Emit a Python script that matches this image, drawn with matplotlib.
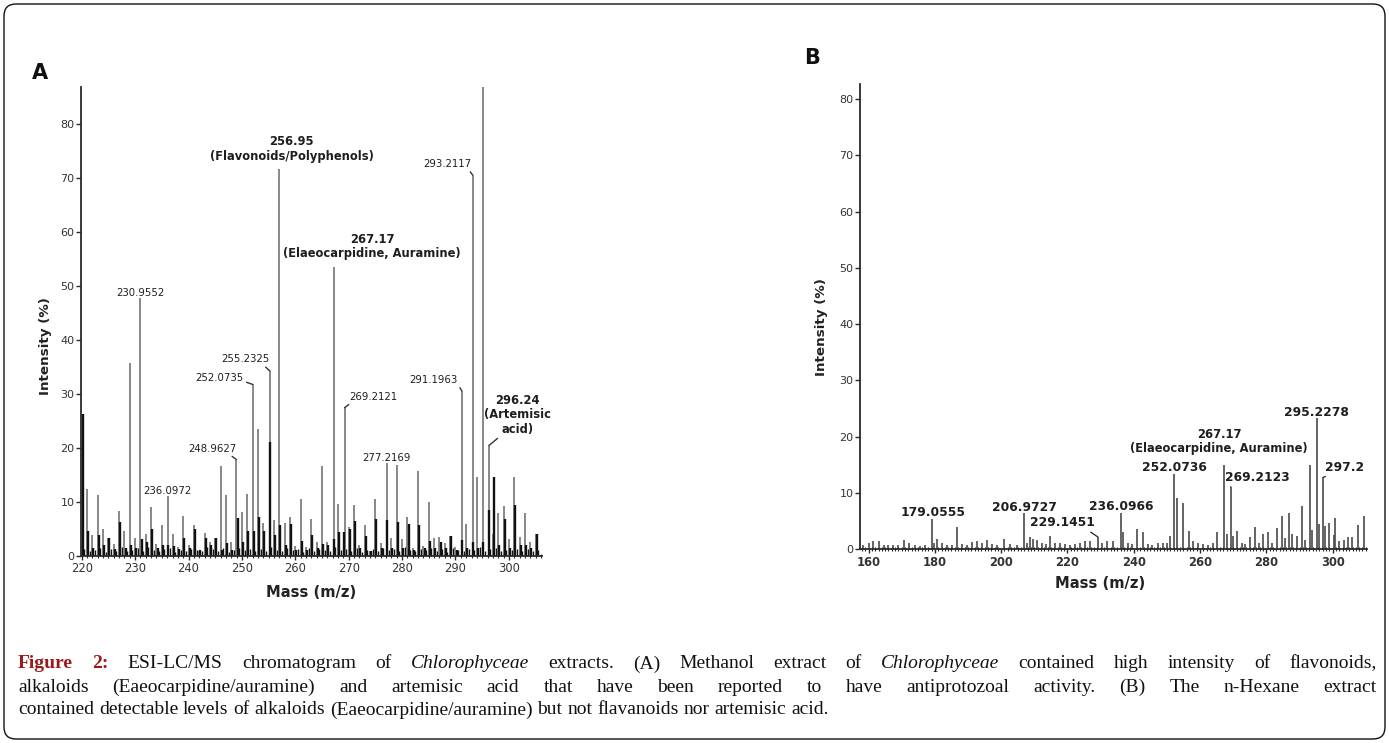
import numpy as np
import matplotlib
matplotlib.use("Agg")
import matplotlib.pyplot as plt
from matplotlib.patches import FancyBboxPatch
from matplotlib.ticker import MultipleLocator

plt.rcParams['font.family'] = ['DejaVu Sans']

# ---------------- Panel A data (methanol extract) ----------------
A_gray_mz = [221, 222, 223, 224, 225, 226, 227, 228, 229, 230, 230.9552, 232, 233, 234, 235,
             236.0972, 237, 238, 239, 240, 241, 242, 243, 244, 245, 246, 247, 248, 248.9627,
             250, 251, 252.0735, 253, 254, 255.2325, 256, 256.95, 258, 259, 260, 261, 262, 263,
             264, 265, 266, 267.17, 268, 269.2121, 270, 271, 272, 273, 274, 275, 276, 277.2169,
             278, 279, 280, 281, 282, 283, 284, 285, 286, 287, 288, 289, 290, 291.1963, 292,
             293.2117, 294, 295.2, 296.24, 297, 298, 299, 300, 301, 302, 303, 304, 305]
A_gray_int = [12.3, 3.8, 11.3, 5.0, 3.3, 2.2, 8.2, 4.6, 35.6, 3.3, 47.7, 4.1, 9.1, 2.2, 5.6,
              11.0, 4.0, 1.7, 7.4, 2.0, 5.7, 0.9, 4.2, 2.5, 3.3, 16.7, 11.3, 2.5, 17.8,
              8.1, 11.5, 31.7, 23.4, 6.1, 34.2, 6.7, 71.7, 6.1, 7.1, 1.8, 10.5, 1.7, 6.8,
              2.5, 16.7, 2.5, 53.4, 9.6, 27.4, 5.4, 9.4, 2.0, 5.6, 0.9, 10.5, 2.4, 17.1,
              3.3, 16.8, 3.1, 7.2, 1.4, 15.6, 1.8, 9.9, 3.3, 3.5, 2.4, 3.6, 1.7, 30.5, 5.9,
              70.5, 14.6, 100.0, 20.4, 4.0, 7.9, 9.2, 3.1, 14.6, 3.5, 8.0, 2.5, 4.0]

A_black_mz = list(range(220, 306))
A_black_int = [26.2, 4.5, 1.5, 3.8, 2.0, 3.3, 1.2, 6.2, 1.5, 2.0,
               1.5, 3.1, 2.5, 4.9, 1.5, 2.0, 2.0, 1.8, 1.2, 3.3,
               1.5, 4.9, 1.0, 3.3, 2.0, 3.3, 1.0, 2.3, 1.0, 7.0,
               2.5, 4.6, 4.5, 7.1, 4.5, 21.0, 3.8, 5.6, 2.0, 5.8,
               1.0, 2.7, 1.0, 3.8, 1.5, 2.2, 2.0, 3.1, 4.3, 4.3,
               4.9, 6.5, 1.5, 3.6, 0.8, 6.8, 1.5, 6.6, 1.5, 6.2,
               1.5, 5.9, 1.0, 5.6, 1.5, 2.7, 1.5, 2.5, 1.5, 3.6,
               1.0, 2.9, 1.5, 2.6, 1.5, 2.5, 8.5, 14.6, 2.0, 6.8,
               1.5, 9.3, 2.0, 2.0, 1.5, 4.0]

A_minor_mz = [m + 0.5 for m in range(220, 306)]
A_minor_int = [1.2, 0.8, 1.0, 1.5, 0.7, 1.3, 0.9, 1.6, 0.8, 1.1,
               1.4, 0.9, 1.7, 1.0, 0.8, 1.2, 1.5, 0.7, 1.1, 0.9,
               1.3, 1.0, 0.8, 1.6, 1.2, 0.9, 1.4, 0.7, 1.1, 1.5,
               1.0, 1.3, 0.8, 1.2, 0.9, 1.7, 1.1, 0.8, 1.4, 1.0,
               1.2, 0.7, 1.5, 0.9, 1.3, 1.1, 0.8, 1.6, 1.0, 1.2,
               0.9, 1.4, 0.7, 1.1, 1.3, 0.8, 1.5, 1.0, 1.2, 0.9,
               1.6, 1.1, 0.8, 1.3, 1.0, 1.4, 0.9, 1.2, 0.7, 1.5,
               1.1, 0.8, 1.3, 1.0, 1.6, 0.9, 1.2, 1.4, 0.8, 1.1,
               1.0, 1.3, 0.9, 1.2, 0.8, 1.0]

A_xticks = [220, 230, 240, 250, 260, 270, 280, 290, 300]
A_yticks = [0, 10, 20, 30, 40, 50, 60, 70, 80]

# ---------------- Panel B data (n-hexane extract) ----------------
B_mz = [158.4, 160, 161.4, 163, 164.5, 166, 167.5, 169, 170.7, 172.2,
        174, 175.5, 177, 179.0555, 179.6, 180.6, 182.1, 183.6, 185.1, 186.8,
        188.1, 189.6, 191.1, 192.6, 194.2, 195.7, 197.2, 198.7, 201, 202.7,
        204.7, 206.9727, 207.7, 208.7, 209.7, 210.7, 212.2, 213.5, 214.7, 216.3,
        217.8, 219.3, 220.8, 222.3, 223.8, 225.3, 226.8, 229.1451, 230.5, 232,
        233.6, 236.0966, 236.9, 238.4, 239.4, 240.9, 242.7, 244.2, 245.6, 247.2,
        248.7, 249.9, 250.9, 252.0736, 252.9, 254.9, 256.7, 258, 259.5, 261,
        262.5, 263.9, 265, 267.17, 268, 269.2123, 270, 271, 272.6, 273.6,
        275.1, 276.6, 277.8, 279.1, 280.6, 281.8, 283.1, 284.8, 285.6, 286.8,
        287.8, 289.1, 290.8, 291.8, 293.1, 293.9, 295.2278, 295.8, 297.2, 297.8,
        298.8, 300.4, 300.8, 302, 303.3, 304.7, 305.8, 307.5, 309.5]
B_int = [0.8, 1.1, 1.4, 1.5, 0.7, 0.8, 0.7, 0.8, 1.7, 1.1,
         0.8, 0.5, 0.8, 5.3, 1.1, 1.8, 1.1, 0.8, 0.7, 3.9,
         1.0, 0.8, 1.3, 1.5, 1.1, 1.7, 1.0, 0.8, 1.9, 1.0,
         0.8, 6.4, 1.1, 2.2, 1.9, 1.7, 1.1, 1.0, 2.4, 1.1,
         1.2, 1.0, 0.8, 1.0, 1.1, 1.4, 1.5, 2.2, 1.2, 1.4,
         1.5, 6.5, 3.0, 1.2, 1.0, 3.6, 3.0, 1.0, 0.8, 1.1,
         1.2, 1.1, 2.3, 13.4, 9.1, 8.2, 3.3, 1.4, 1.1, 1.0,
         0.8, 1.1, 3.0, 15.0, 2.7, 11.1, 2.3, 3.3, 1.2, 1.0,
         2.1, 3.9, 1.2, 2.7, 3.1, 1.1, 3.8, 5.9, 2.0, 6.4,
         2.7, 2.3, 7.7, 1.7, 15.0, 3.4, 23.3, 4.5, 12.8, 4.1,
         4.7, 2.5, 5.5, 1.4, 1.7, 2.2, 2.2, 4.3, 6.0]

B_xticks = [160, 180, 200, 220, 240, 260, 280, 300]
B_yticks = [0, 10, 20, 30, 40, 50, 60, 70, 80]

# ---------------- labels ----------------
# (mz of peak, text, dx px, dy px, font size, weight, connector relpos or None)
A_labels = [
    (230.9552, "230.9552", 0, 5, 7.3, 'normal', None),
    (256.95, "256.95\n(Flavonoids/Polyphenols)", 12.5, 19.5, 8.3, 'bold', None),
    (267.17, "267.17\n(Elaeocarpidine, Auramine)", 38.5, 21, 8.3, 'bold', None),
    (293.2117, "293.2117", -25, 11, 7.3, 'normal', (0.92, 0.05)),
    (255.2325, "255.2325", -24, 11.7, 7.3, 'normal', (0.85, 0.0)),
    (252.0735, "252.0735", -33.4, 6.7, 7.3, 'normal', (1.0, 0.15)),
    (248.9627, "248.9627", -24.4, 11, 7.3, 'normal', (0.84, 0.0)),
    (236.0972, "236.0972", 0, 5, 7.3, 'normal', None),
    (269.2121, "269.2121", 28.7, 11, 7.3, 'normal', (0.07, 0.0)),
    (277.2169, "277.2169", -0.7, 5.7, 7.3, 'normal', None),
    (291.1963, "291.1963", -28.4, 11, 7.3, 'normal', (1.0, 0.1)),
    (296.24, "296.24\n(Artemisic\nacid)", 29, 31, 8.3, 'bold', (0.28, 0.04)),
]
B_labels = [
    (179.0555, "179.0555", 1, 6.7, 8.8, 'bold', None),
    (206.9727, "206.9727", 0, 5.5, 8.8, 'bold', None),
    (229.1451, "229.1451", -35.2, 14, 8.8, 'bold', (0.87, 0.0)),
    (236.0966, "236.0966", 0, 6, 8.8, 'bold', None),
    (252.0736, "252.0736", 0.5, 6.7, 8.8, 'bold', None),
    (267.17, "267.17\n(Elaeocarpidine, Auramine)", -4.9, 23.3, 8.3, 'bold', None),
    (269.2123, "269.2123", 26.5, 9.3, 8.8, 'bold', (0.18, 0.0)),
    (295.2278, "295.2278", 0, 6, 8.8, 'bold', None),
    (297.2, "297.2", 20.8, 10, 8.8, 'bold', (0.22, 0.0)),
]

caption_lines = [
    [("Figure 2:", 'b'), ("ESI-LC/MS chromatogram of", 'n'), ("Chlorophyceae", 'i'),
     ("extracts. (A) Methanol extract of", 'n'), ("Chlorophyceae", 'i'),
     ("contained high intensity of flavonoids,", 'n')],
    [("alkaloids (Eaeocarpidine/auramine) and artemisic acid that have been reported to have "
      "antiprotozoal activity. (B) The n-Hexane extract", 'n')],
    [("contained detectable levels of alkaloids (Eaeocarpidine/auramine) but not flavanoids "
      "nor artemisic acid.", 'n')],
]

# ---------------- figure ----------------
W, H, DPI = 1389, 743, 100
PT = 72.0 / DPI  # points per pixel
fig = plt.figure(figsize=(W / DPI, H / DPI), dpi=DPI)
fig.patch.set_facecolor('white')


def rect(l, t, r, b):
    return [l / W, 1 - b / H, (r - l) / W, (b - t) / H]


def style_axes(ax, xticks, yticks, xbold):
    for s in ['top', 'right']:
        ax.spines[s].set_visible(False)
    for s in ['left', 'bottom']:
        ax.spines[s].set_color('#2a2a2a')
        ax.spines[s].set_linewidth(1.3)
    ax.set_xticks(xticks)
    ax.set_yticks(yticks)
    ax.xaxis.set_minor_locator(MultipleLocator(1))
    ax.tick_params(axis='y', which='major', direction='out', length=5 * PT, width=1.0,
                   pad=1.2, labelsize=8, labelcolor='#333333', color='#2a2a2a')
    ax.tick_params(axis='x', which='major', direction='out', length=4 * PT, width=1.0,
                   pad=2.0, labelsize=8.3, labelcolor='#333333', color='#2a2a2a')
    ax.tick_params(axis='x', which='minor', direction='inout', length=4 * PT, width=0.8,
                   color='#2a2a2a')
    if xbold:
        for lab in ax.get_xticklabels():
            lab.set_fontweight('bold')
    ax.set_facecolor('none')


def add_labels(ax, mzs, ints, specs):
    lookup = dict(zip(mzs, ints))
    ytop = ax.get_ylim()[1]
    for mz, text, dx, dy, fs, wt, rel in specs:
        val = min(lookup[mz], ytop)
        kw = dict(xy=(mz, val), xytext=(dx * PT, dy * PT), textcoords='offset points',
                  ha='center', va='center', fontsize=fs, fontweight=wt, color='#1e1e1e',
                  multialignment='center', linespacing=1.15, annotation_clip=False)
        if rel is not None:
            kw['arrowprops'] = dict(arrowstyle='-', color='#333333', lw=1.0,
                                    shrinkA=0, shrinkB=0, relpos=rel)
        ax.annotate(text, **kw)


# Panel A
axA = fig.add_axes(rect(81.2, 87.0, 542.0, 555.7))
axA.set_xlim(219.9, 306.2)
axA.set_ylim(0, 86.8)
axA.vlines(A_minor_mz, 0, A_minor_int, colors='#111111', linewidth=1.0)
axA.vlines(A_gray_mz, 0, A_gray_int, colors='#7a7a7a', linewidth=1.25)
axA.vlines([m + 0.2 for m in A_black_mz], 0, A_black_int, colors='#111111', linewidth=1.7)
style_axes(axA, A_xticks, A_yticks, False)
add_labels(axA, A_gray_mz, A_gray_int, A_labels)

# Panel B
axB = fig.add_axes(rect(860.3, 84.0, 1366.8, 549.3))
axB.set_xlim(157.5, 310.3)
axB.set_ylim(0, 82.65)
axB.vlines(B_mz, 0, B_int, colors='#4a4a4a', linewidth=1.2)
style_axes(axB, B_xticks, B_yticks, True)
add_labels(axB, B_mz, B_int, B_labels)


def ftext(xp, yp, s, **kw):
    return fig.text(xp / W, 1 - yp / H, s, **kw)


# Panel letters and axis titles
ftext(39.5, 73, "A", fontsize=15, fontweight='bold', ha='center', va='center', color='#111')
ftext(812, 57.5, "B", fontsize=15, fontweight='bold', ha='center', va='center', color='#111')
ftext(46, 346, "Intensity (%)", fontsize=9.7, fontweight='bold', rotation=90,
      ha='center', va='center', color='#222')
ftext(821, 327, "Intensity (%)", fontsize=9.7, fontweight='bold', rotation=90,
      ha='center', va='center', color='#222')
ftext(311, 592.5, "Mass (m/z)", fontsize=10.6, fontweight='bold', ha='center', va='center',
      color='#222')
ftext(1100, 584, "Mass (m/z)", fontsize=10.6, fontweight='bold', ha='center', va='center',
      color='#222')

# Outer rounded border
border = FancyBboxPatch((4 / DPI, 4 / DPI), 1381 / DPI, 735 / DPI,
                        boxstyle='round,pad=0,rounding_size=0.12',
                        transform=fig.dpi_scale_trans, fill=False,
                        edgecolor='#111111', linewidth=1.0)
fig.add_artist(border)

# Caption with manual justification
CAP_FS = 14.0
renderer = fig.canvas.get_renderer()
styles = {
    'n': dict(family='Liberation Serif', color='#111111'),
    'i': dict(family='Liberation Serif', style='italic', color='#111111'),
    'b': dict(family='Liberation Serif', fontweight='bold', color='#9b1b1b'),
}
probe = fig.text(0, 0, "a a", fontsize=CAP_FS, family='Liberation Serif')
probe2 = fig.text(0, 0, "aa", fontsize=CAP_FS, family='Liberation Serif')
space_w = (probe.get_window_extent(renderer).width - probe2.get_window_extent(renderer).width)
probe.remove()
probe2.remove()

X0, X1 = 18.0, 1377.0
baselines = [668.5, 691.5, 714.5]
for li, tokens in enumerate(caption_lines):
    words = []
    for seg, kind in tokens:
        for w in seg.split(' '):
            if w:
                words.append((w, kind))
    arts = []
    widths = []
    for w, kind in words:
        t = ftext(0, baselines[li], w, fontsize=CAP_FS, ha='left', va='baseline', **styles[kind])
        arts.append(t)
        widths.append(t.get_window_extent(renderer).width)
    justify = li < len(caption_lines) - 1
    if justify and len(words) > 1:
        gap = (X1 - X0 - sum(widths)) / (len(words) - 1)
    else:
        gap = space_w
    x = X0
    for t, wdt in zip(arts, widths):
        t.set_x(x / W)
        x += wdt + gap

fig.savefig("out.png", dpi=DPI, facecolor='white')
